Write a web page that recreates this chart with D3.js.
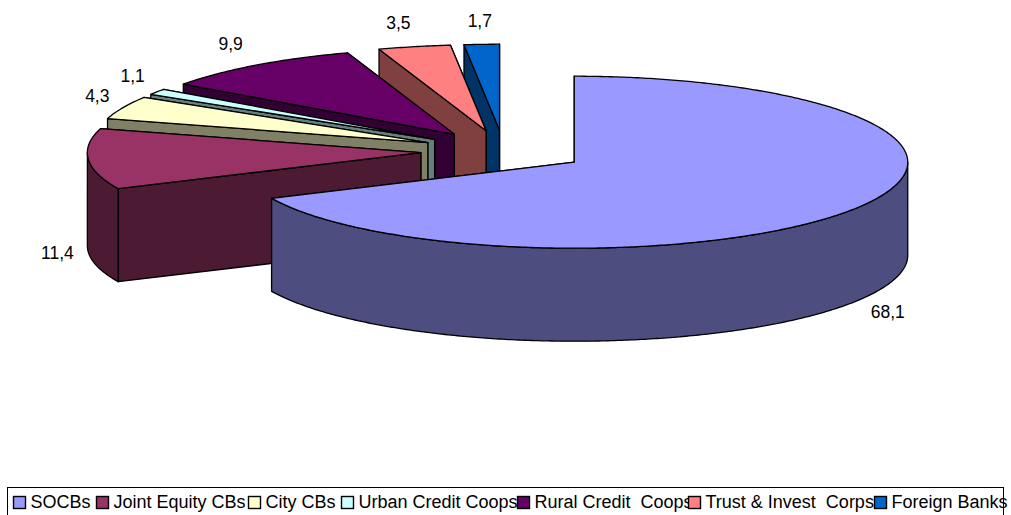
<!DOCTYPE html>
<html><head><meta charset="utf-8">
<script src="https://cdn.jsdelivr.net/npm/d3@7"></script>
<style>html,body{margin:0;padding:0;background:#fff;overflow:hidden}svg{display:block}text{font-family:"Liberation Sans",Arial,sans-serif;white-space:pre}</style>
</head><body><svg id="c" width="1011" height="515"></svg>
<script>
const categories = ["SOCBs","Joint Equity CBs","City CBs","Urban Credit Coops","Rural Credit  Coops","Trust & Invest  Corps","Foreign Banks"];
const values = [68.1,11.4,4.3,1.1,9.9,3.5,1.7];
const valueLabels = ["68,1","11,4","4,3","1,1","9,9","3,5","1,7"];
const colors = ["#9999FF","#993366","#FFFFCC","#CCFFFF","#660066","#FF8080","#0066CC"];
// layout only
const labelNudgeX = [5,-1,3,3,-2,-2,5];
const labelNudgeY = [-3,-1,-2,-2,-1.5,0.5,1.5];
const legendSwatchX = [13,96,248,341,517,688,874];

const W=1011,H=515, cx=504, cy=151, rx=333.5, ry=86, depth=93, explodeX=0.25, explodeY=0.242;
const svg=d3.select("#c");
const pie=d3.pie().sort(null).value(d=>d).startAngle(0).endAngle(2*Math.PI);
const arcs=pie(values).map((a,i)=>{
  const mid=(a.startAngle+a.endAngle)/2;
  return {i,start:a.startAngle,end:a.endAngle,mid,
    ox:cx+explodeX*rx*Math.sin(mid),oy:cy-explodeY*ry*Math.cos(mid)};
});
const pt=(s,t)=>[s.ox+rx*Math.sin(t),s.oy-ry*Math.cos(t)];
const samples=(t0,t1)=>{const n=Math.max(2,Math.ceil((t1-t0)/0.01));return d3.range(n+1).map(k=>t0+(t1-t0)*k/n);};
const line=d3.line();
const dark=c=>{const r=d3.rgb(c);return d3.rgb(r.r/2,r.g/2,r.b/2).formatHex();};
const g=svg.append("g").attr("stroke","#000").attr("stroke-width",1.3).attr("stroke-linejoin","round");
// back-to-front: the slices run clockwise from 12 o'clock, the last are farthest
arcs.slice().reverse().forEach(s=>{
  const col=colors[s.i], wall=dark(col), o=[s.ox,s.oy], down=p=>[p[0],p[1]+depth];
  [s.end,s.start].forEach(t=>{
    const p=pt(s,t);
    g.append("path").attr("d",line([o,p,down(p),down(o)])+"Z").attr("fill",wall);
  });
  const a0=Math.max(s.start,Math.PI/2), a1=Math.min(s.end,3*Math.PI/2);
  if(a1>a0){
    const top=samples(a0,a1).map(t=>pt(s,t));
    g.append("path").attr("d",line(top.concat(top.slice().reverse().map(down)))+"Z").attr("fill",wall);
  }
  g.append("path").attr("d",line([o].concat(samples(s.start,s.end).map(t=>pt(s,t))))+"Z").attr("fill",col);
});
// value labels sit outside the rim along each slice's mid-angle
svg.append("g").attr("font-size",17.5).attr("fill","#000").attr("text-anchor","middle")
 .selectAll("text").data(arcs).join("text")
 .attr("x",s=>{const q=Math.sin(s.mid);return s.ox+rx*q+Math.sign(q)*30*Math.sqrt(Math.abs(q))+labelNudgeX[s.i];})
 .attr("y",s=>{const q=Math.cos(s.mid);return s.oy-ry*q-25*q+(q<0?depth:0)+6.3+labelNudgeY[s.i];})
 .text(s=>valueLabels[s.i]);
// legend
const lg=svg.append("g");
const legendX=d3.scaleOrdinal(categories,legendSwatchX);
lg.append("rect").attr("x",7.5).attr("y",487.5).attr("width",996).attr("height",40).attr("fill","#fff").attr("stroke","#000");
categories.forEach((c,i)=>{
  const x=legendX(c);
  lg.append("rect").attr("x",x+.5).attr("y",496.5).attr("width",12).attr("height",12).attr("fill",colors[i]).attr("stroke","#000").attr("stroke-width",1.4);
  lg.append("text").attr("x",x+17.5).attr("y",508).attr("font-size",18).attr("fill","#000").text(c);
});
</script></body></html>
